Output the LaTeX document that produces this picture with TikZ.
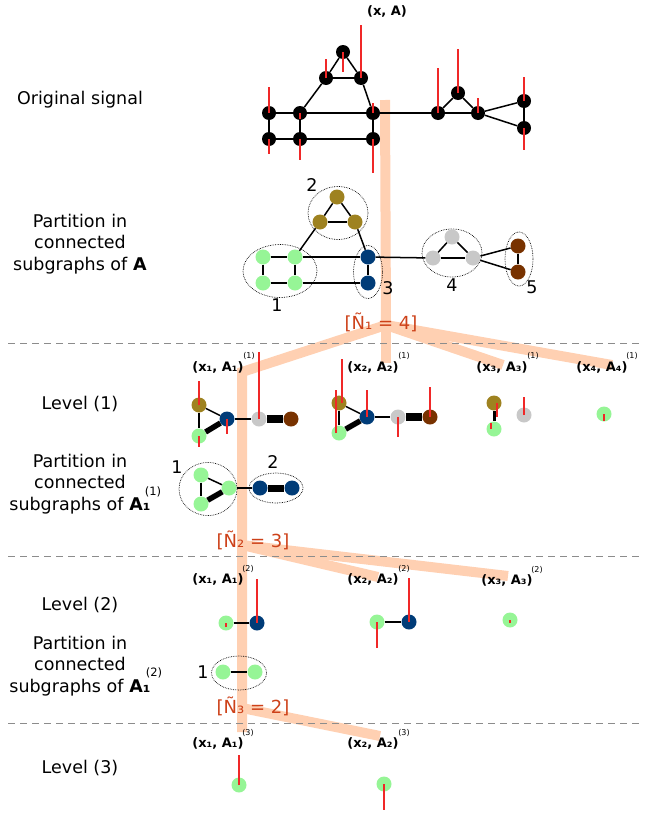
\documentclass[tikz,border=0pt]{standalone}
\usepackage{fontspec}
\setmainfont{DejaVu Sans}
\usetikzlibrary{shapes.geometric}
\definecolor{olivenode}{RGB}{158,130,32}
\definecolor{greennode}{RGB}{150,245,150}
\definecolor{bluenode}{RGB}{0,60,120}
\definecolor{graynode}{RGB}{200,200,200}
\definecolor{brownnode}{RGB}{120,50,0}
\definecolor{bandcol}{RGB}{255,208,178}
\definecolor{countcol}{RGB}{205,65,25}
\definecolor{sepcol}{RGB}{140,140,140}
\definecolor{sigcol}{RGB}{240,40,40}

\begin{document}
\begin{tikzpicture}
        [x=1pt, y=-1pt,
        node/.style={circle, minimum size=15pt, inner sep=0pt},
        nodeBlack/.style={node, fill=black, minimum size=14pt},
        nodeOlive/.style={node, fill=olivenode},
        nodeGreen/.style={node, fill=greennode},
        nodeBlue/.style={node, fill=bluenode},
        nodeGray/.style={node, fill=graynode},
        nodeBrown/.style={node, fill=brownnode},
        link/.style={line width=1.5pt},
        sig/.style={sigcol, line width=1.1pt},
        group/.style={ellipse, draw, densely dotted, line width=0.7pt, inner sep=0pt},
        band/.style={bandcol, line width=10pt},
        sep/.style={sepcol, dash pattern=on 7pt off 5pt, line width=0.8pt},
        side/.style={align=center, font=\fontsize{17.5}{21.5}\selectfont},
        sup/.style={font=\fontsize{11.5}{13}\selectfont},
        pair/.style={font=\bfseries\fontsize{13}{15}\selectfont},
        lev/.style={font=\fontsize{8}{9}\selectfont},
        count/.style={text=countcol, font=\fontsize{18}{20}\selectfont},
        num/.style={font=\fontsize{17.5}{20}\selectfont}]
        \useasboundingbox (0,0) rectangle (662,814);

        % bands of the tree
        \coordinate (t0) at (385,100);
        \coordinate (j1) at (386,325);
        \coordinate (c1) at (242,372);
        \coordinate (j2) at (242,545);
        \coordinate (j3) at (242,708);
        \coordinate (e11) at (242,732);
        \coordinate (e12) at (386,363);
        \coordinate (e13) at (503,365);
        \coordinate (e14) at (612,365);
        \coordinate (e22) at (378,577);
        \coordinate (e23) at (508,576);
        \coordinate (e32) at (380,736);
        \draw[band] (t0) -- (j1);
        \draw[band] (j1) -- (c1) -- (j2) -- (j3) -- (e11);
        \draw[band] (j1) -- (e12);
        \draw[band] (j1) -- (e13);
        \draw[band] (j1) -- (e14);
        \draw[band] (j2) -- (e22);
        \draw[band] (j2) -- (e23);
        \draw[band] (j3) -- (e32);

        % separators
        \draw[sep] (8,343) -- (640,343);
        \draw[sep] (8,556) -- (640,556);
        \draw[sep] (8,723) -- (640,723);

        % left texts
        \node[side] (orig) at (80,100) {Original signal};
        \node[side] (part0) at (80,244) {Partition in\\connected\\subgraphs of \textbf{A}};
        \node[side] (lev1) at (80,404) {Level (1)};
        \node[side] (part1) at (80,484) {Partition in\\connected\\subgraphs of \textbf{A₁}};
        \node[sup] (part1s) at (153,492) {(1)};
        \node[side] (lev2) at (80,605) {Level (2)};
        \node[side] (part2) at (80,666) {Partition in\\connected\\subgraphs of \textbf{A₁}};
        \node[sup] (part2s) at (154,673) {(2)};
        \node[side] (lev3) at (80,768) {Level (3)};

        % original signal
        \node[pair] (xA) at (387,11) {(x, A)};
        \node[nodeBlack] (A) at (343,52) {};
        \node[nodeBlack] (B) at (326,78) {};
        \node[nodeBlack] (C) at (361,78) {};
        \node[nodeBlack] (D) at (269,113) {};
        \node[nodeBlack] (E) at (300,113) {};
        \node[nodeBlack] (F) at (373,113) {};
        \node[nodeBlack] (G) at (269,139) {};
        \node[nodeBlack] (H) at (300,139) {};
        \node[nodeBlack] (I) at (373,139) {};
        \node[nodeBlack] (J) at (438,113) {};
        \node[nodeBlack] (K) at (458,93) {};
        \node[nodeBlack] (L) at (478,113) {};
        \node[nodeBlack] (M) at (524,101) {};
        \node[nodeBlack] (N) at (524,128) {};
        \draw[link] (A) -- (B);
        \draw[link] (A) -- (C);
        \draw[link] (B) -- (C);
        \draw[link] (B) -- (E);
        \draw[link] (C) -- (F);
        \draw[link] (D) -- (E);
        \draw[link] (E) -- (F);
        \draw[link] (D) -- (G);
        \draw[link] (E) -- (H);
        \draw[link] (G) -- (H);
        \draw[link] (H) -- (I);
        \draw[link] (F) -- (I);
        \draw[link] (F) -- (J);
        \draw[link] (J) -- (K);
        \draw[link] (K) -- (L);
        \draw[link] (J) -- (L);
        \draw[link] (L) -- (M);
        \draw[link] (L) -- (N);
        \draw[link] (M) -- (N);
        \draw[sig] (A.center) -- ++(0,20);
        \draw[sig] (B.center) -- ++(0,-19);
        \draw[sig] (C.center) -- ++(0,-53);
        \draw[sig] (D.center) -- ++(0,-26);
        \draw[sig] (E.center) -- ++(0,6);
        \draw[sig] (F.center) -- ++(0,-10);
        \draw[sig] (G.center) -- ++(0,15);
        \draw[sig] (H.center) -- ++(0,21);
        \draw[sig] (I.center) -- ++(0,34);
        \draw[sig] (J.center) -- ++(0,-45);
        \draw[sig] (K.center) -- ++(0,-44);
        \draw[sig] (L.center) -- ++(0,-15);
        \draw[sig] (M.center) -- ++(0,-24);
        \draw[sig] (N.center) -- ++(0,22);

        % partition of A
        \node[group, minimum width=74pt, minimum height=53pt] (g1) at (280,271) {};
        \node[group, minimum width=60pt, minimum height=53pt] (g2) at (338,213) {};
        \node[group, minimum width=29pt, minimum height=53pt] (g3) at (368,272) {};
        \node[group, minimum width=60pt, minimum height=48pt] (g4) at (452,253) {};
        \node[group, minimum width=28pt, minimum height=54pt] (g5) at (519,259) {};
        \node[nodeOlive] (P1) at (337,197) {};
        \node[nodeOlive] (P2) at (320,222) {};
        \node[nodeOlive] (P3) at (355,222) {};
        \node[nodeGreen] (P4) at (263,257) {};
        \node[nodeGreen] (P5) at (295,257) {};
        \node[nodeGreen] (P6) at (263,283) {};
        \node[nodeGreen] (P7) at (295,283) {};
        \node[nodeBlue] (P8) at (368,257) {};
        \node[nodeBlue] (P9) at (368,283) {};
        \node[nodeGray] (P10) at (433,258) {};
        \node[nodeGray] (P11) at (452,237) {};
        \node[nodeGray] (P12) at (473,258) {};
        \node[nodeBrown] (P13) at (518,246) {};
        \node[nodeBrown] (P14) at (518,272) {};
        \draw[link] (P1) -- (P2);
        \draw[link] (P1) -- (P3);
        \draw[link] (P2) -- (P3);
        \draw[link] (P2) -- (P5);
        \draw[link] (P3) -- (P8);
        \draw[link] (P4) -- (P5);
        \draw[link] (P4) -- (P6);
        \draw[link] (P5) -- (P7);
        \draw[link] (P6) -- (P7);
        \draw[link] (P5) -- (P8);
        \draw[link] (P7) -- (P9);
        \draw[link] (P8) -- (P9);
        \draw[link] (P8) -- (P10);
        \draw[link] (P10) -- (P11);
        \draw[link] (P11) -- (P12);
        \draw[link] (P10) -- (P12);
        \draw[link] (P12) -- (P13);
        \draw[link] (P12) -- (P14);
        \draw[link] (P13) -- (P14);
        \node[num] (n1) at (277,305) {1};
        \node[num] (n2) at (312,185) {2};
        \node[num] (n3) at (388,288) {3};
        \node[num] (n4) at (452,285) {4};
        \node[num] (n5) at (532,287) {5};
        \node[count] (cnt1) at (381,322) {[Ñ₁ = 4]};

        % level (1)
        \node[pair] (p11) at (218,367) {(x₁, A₁)};
        \node[lev] (p11s) at (249,356) {(1)};
        \node[pair] (p12) at (373,367) {(x₂, A₂)};
        \node[lev] (p12s) at (404,356) {(1)};
        \node[pair] (p13) at (502,367) {(x₃, A₃)};
        \node[lev] (p13s) at (533,356) {(1)};
        \node[pair] (p14) at (602,367) {(x₄, A₄)};
        \node[lev] (p14s) at (632,356) {(1)};

        \node[nodeOlive] (U1) at (199,405) {};
        \node[nodeGreen] (U2) at (199,436) {};
        \node[nodeBlue] (U3) at (227,419) {};
        \node[nodeGray] (U4) at (259,419) {};
        \node[nodeBrown] (U5) at (291,419) {};
        \draw[link] (U1) -- (U3);
        \draw[link] (U1) -- (U2);
        \draw[line width=5.5pt] (U2) -- (U3);
        \draw[link] (U3) -- (U4);
        \draw[line width=7.5pt] (U4) -- (U5);
        \draw[sig] (U1.center) -- ++(0,-24);
        \draw[sig] (U2.center) -- ++(0,11);
        \draw[sig] (U3.center) -- ++(0,15);
        \draw[sig] (U4.center) -- ++(0,-67);

        \node[nodeOlive] (V1) at (339,403) {};
        \node[nodeGreen] (V2) at (339,433) {};
        \node[nodeBlue] (V3) at (367,417) {};
        \node[nodeGray] (V4) at (398,417) {};
        \node[nodeBrown] (V5) at (430,417) {};
        \draw[link] (V1) -- (V3);
        \draw[link] (V1) -- (V2);
        \draw[line width=5.5pt] (V2) -- (V3);
        \draw[link] (V3) -- (V4);
        \draw[line width=7.5pt] (V4) -- (V5);
        \draw[sig] ([xshift=3pt]V1.center) -- ++(0,-44);
        \draw[sig] ([xshift=-3pt]V2.center) -- ++(0,-43);
        \draw[sig] (V3.center) -- ++(0,-27);
        \draw[sig] (V4.center) -- ++(0,20);
        \draw[sig] (V5.center) -- ++(0,-30);

        \node[nodeOlive] (W1) at (494,403) {};
        \node[nodeGreen] (W2) at (494,429) {};
        \node[nodeGray] (W3) at (524,415) {};
        \draw[line width=3pt] (W1) -- (W2);
        \draw[sig] ([xshift=3pt]W1.center) -- ++(0,14);
        \draw[sig] ([xshift=-3pt]W2.center) -- ++(0,-6);
        \draw[sig] (W3.center) -- ++(0,-18);

        \node[nodeGreen] (X1) at (604,414) {};
        \draw[sig] (X1.center) -- ++(0,7);

        % partition of A1 (1)
        \node[group, minimum width=58pt, minimum height=53pt] (h1) at (208,489) {};
        \node[group, minimum width=54pt, minimum height=30pt] (h2) at (276,488) {};
        \node[nodeGreen] (Q1) at (201,475) {};
        \node[nodeGreen] (Q2) at (229,488) {};
        \node[nodeGreen] (Q3) at (201,504) {};
        \node[nodeBlue] (Q4) at (260,488) {};
        \node[nodeBlue] (Q5) at (292,488) {};
        \draw[link] (Q1) -- (Q3);
        \draw[link] (Q1) -- (Q2);
        \draw[line width=5.5pt] (Q2) -- (Q3);
        \draw[link] (Q2) -- (Q4);
        \draw[line width=7pt] (Q4) -- (Q5);
        \node[num] (m1) at (177,467) {1};
        \node[num] (m2) at (273,462) {2};
        \node[count] (cnt2) at (253,540) {[Ñ₂ = 3]};

        % level (2)
        \node[pair] (p21) at (218,579) {(x₁, A₁)};
        \node[lev] (p21s) at (248,569) {(2)};
        \node[pair] (p22) at (373,579) {(x₂, A₂)};
        \node[lev] (p22s) at (404,569) {(2)};
        \node[pair] (p23) at (507,580) {(x₃, A₃)};
        \node[lev] (p23s) at (537,570) {(2)};

        \node[nodeGreen] (R1) at (226,623) {};
        \node[nodeBlue] (R2) at (257,623) {};
        \draw[link] (R1) -- (R2);
        \draw[sig] (R1.center) -- ++(0,4);
        \draw[sig] (R2.center) -- ++(0,-44);

        \node[nodeGreen] (S1) at (377,622) {};
        \node[nodeBlue] (S2) at (409,622) {};
        \draw[link] (S1) -- (S2);
        \draw[sig] (S1.center) -- ++(0,26);
        \draw[sig] (S2.center) -- ++(0,-44);

        \node[nodeGreen] (T1) at (510,620) {};
        \draw[sig] (T1.center) -- ++(0,3);

        % partition of A1 (2)
        \node[group, minimum width=55pt, minimum height=34pt] (k1) at (239,673) {};
        \node[nodeGreen] (Z1) at (223,672) {};
        \node[nodeGreen] (Z2) at (255,672) {};
        \draw[link] (Z1) -- (Z2);
        \node[num] (l1) at (203,672) {1};
        \node[count] (cnt3) at (253,706) {[Ñ₃ = 2]};

        % level (3)
        \node[pair] (p31) at (218,743) {(x₁, A₁)};
        \node[lev] (p31s) at (248,733) {(3)};
        \node[pair] (p32) at (373,743) {(x₂, A₂)};
        \node[lev] (p32s) at (404,733) {(3)};

        \node[nodeGreen] (Y1) at (239,785) {};
        \node[nodeGreen] (Y2) at (384,784) {};
        \draw[sig] (Y1.center) -- ++(0,-30);
        \draw[sig] (Y2.center) -- ++(0,26);

    \end{tikzpicture}
\end{document}
